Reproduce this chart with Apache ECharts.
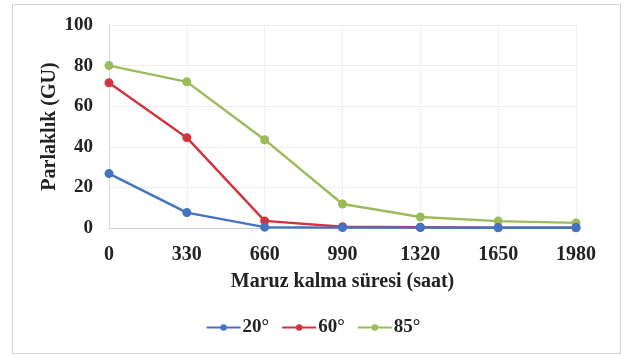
<!DOCTYPE html>
<html><head><meta charset="utf-8">
<script src="https://cdn.jsdelivr.net/npm/echarts@6/dist/echarts.min.js"></script>
<style>html,body{margin:0;padding:0;background:#fff}#c{width:626px;height:356px}
#frame{position:absolute;left:12px;top:4px;width:607px;height:348px;border:1px solid #d4d4d4;pointer-events:none}</style>
</head><body><div id="c"></div><div id="frame"></div>
<script>
const hours = [0, 330, 660, 990, 1320, 1650, 1980];
const names = ['20°', '60°', '85°'];
const v20 = [26.8, 7.6, 0.4, 0.2, 0.2, 0.1, 0.1];
const v60 = [71.5, 44.5, 3.5, 0.6, 0.4, 0.2, 0.2];
const v85 = [80, 72, 43.5, 11.8, 5.4, 3.4, 2.5];
const colors = ['#4472C4', '#D2343F', '#9BBB59'];
const vals = [v20, v60, v85];
const font = '"Liberation Serif","Times New Roman",serif';
const chart = echarts.init(document.getElementById('c'));
chart.setOption({
  animation: false,
  color: colors,
  textStyle: {fontFamily: font},
  grid: {left: 109, right: 50, top: 25, bottom: 128},
  legend: {
    top: 313, left: 'center', itemWidth: 34, itemHeight: 8, itemGap: 12,
    textStyle: {fontFamily: font, fontWeight: 'bold', fontSize: 19, color: '#222', padding: [0, 0, 0, -3]},
    data: names
  },
  xAxis: {
    type: 'value', min: 0, max: 1980, interval: 330,
    name: 'Maruz kalma süresi (saat)', nameLocation: 'middle', nameGap: 44,
    nameTextStyle: {fontFamily: font, fontWeight: 'bold', fontSize: 20, color: '#222'},
    axisLine: {show: true, lineStyle: {color: '#c8cfe0'}},
    axisTick: {show: false},
    axisLabel: {fontFamily: font, fontWeight: 'bold', fontSize: 20, color: '#222', margin: 17,
      formatter: v => String(v)},
    splitLine: {show: true, lineStyle: {color: '#efefef'}}
  },
  yAxis: {
    type: 'value', min: 0, max: 100, interval: 20,
    name: 'Parlaklık (GU)', nameLocation: 'middle', nameGap: 49, nameMoveOverlap: false,
    nameTextStyle: {fontFamily: font, fontWeight: 'bold', fontSize: 20, color: '#222'},
    axisLine: {show: true, lineStyle: {color: '#d4d8e0'}},
    axisTick: {show: false},
    axisLabel: {fontFamily: font, fontWeight: 'bold', fontSize: 19, color: '#222', margin: 16},
    splitLine: {show: true, lineStyle: {color: '#ececec'}}
  },
  series: names.map((n, i) => ({
    name: n, type: 'line',
    data: hours.map((h, j) => [h, vals[i][j]]),
    symbol: 'circle', symbolSize: 9,
    lineStyle: {width: 2.4},
    z: 3 - i
  }))
});
</script></body></html>
